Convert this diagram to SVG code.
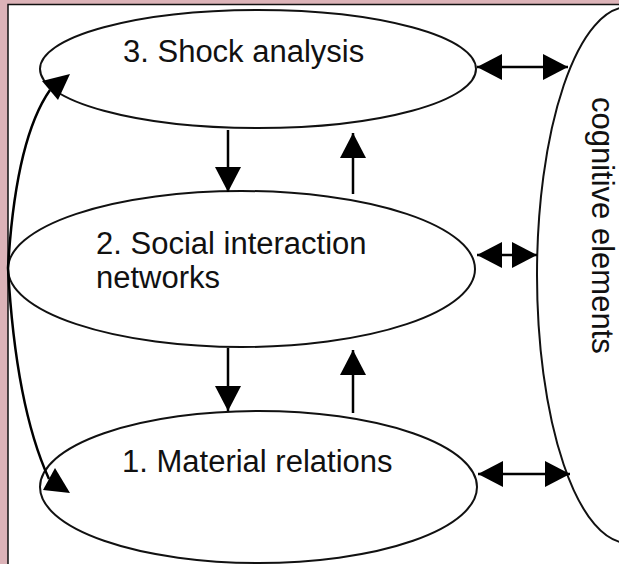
<svg xmlns="http://www.w3.org/2000/svg" width="619" height="564" viewBox="0 0 619 564">
  <style>
    .node { fill: none; stroke: #111; stroke-width: 2; }
    .label { font-family: "Liberation Sans", Arial, sans-serif; font-size: 31px; fill: #111; }
    .conn { fill: none; stroke: #000; stroke-width: 2.5; }
    .head { fill: #000; stroke: none; }
  </style>
  <defs>
    <marker id="arrow" markerUnits="userSpaceOnUse" markerWidth="26" markerHeight="26"
            refX="25" refY="13" orient="auto-start-reverse" viewBox="0 0 26 26">
      <path d="M0,0 L25,13 L0,26 z" fill="#000"/>
    </marker>
  </defs>

  <!-- page frame -->
  <rect x="0" y="0" width="619" height="564" fill="#dcb3b8"/>
  <rect x="8" y="4.5" width="620" height="570" fill="#fff" stroke="#111" stroke-width="1.5"/>

  <g id="shock-analysis">
    <ellipse class="node" cx="258" cy="69" rx="218" ry="59"/>
    <text class="label" x="123" y="62">3. Shock analysis</text>
  </g>

  <g id="social-interaction">
    <ellipse class="node" cx="241.5" cy="269" rx="233.5" ry="78"/>
    <text class="label" x="96" y="254">2. Social interaction</text>
    <text class="label" x="96" y="288">networks</text>
  </g>

  <g id="material-relations">
    <ellipse class="node" cx="258.5" cy="487" rx="218.5" ry="76"/>
    <text class="label" x="122" y="472">1. Material relations</text>
  </g>

  <g id="cognitive-elements">
    <ellipse class="node" cx="628" cy="275" rx="91" ry="268"/>
    <text class="label" transform="translate(592,97) rotate(90)">cognitive elements</text>
  </g>

  <g id="connectors">
    <!-- links to cognitive elements -->
    <line class="conn" x1="477" y1="67" x2="568" y2="67" marker-start="url(#arrow)" marker-end="url(#arrow)"/>
    <line class="conn" x1="477" y1="255" x2="537" y2="255" marker-start="url(#arrow)" marker-end="url(#arrow)"/>
    <line class="conn" x1="478" y1="474" x2="570" y2="474" marker-start="url(#arrow)" marker-end="url(#arrow)"/>

    <!-- between levels -->
    <line class="conn" x1="228" y1="130" x2="228" y2="192" marker-end="url(#arrow)"/>
    <line class="conn" x1="353" y1="194" x2="353" y2="133" marker-end="url(#arrow)"/>
    <line class="conn" x1="228" y1="348" x2="228" y2="411" marker-end="url(#arrow)"/>
    <line class="conn" x1="353" y1="413" x2="353" y2="350" marker-end="url(#arrow)"/>

    <!-- outer arcs from level 2 -->
    <path class="conn" d="M8,268 C12,200 22,130 50,90"/>
    <polygon class="head" points="70,74 42,81 58,100"/>
    <path class="conn" d="M8,268 C12,340 22,420 49,479"/>
    <polygon class="head" points="70,493 55,468 43,490"/>
  </g>
</svg>
